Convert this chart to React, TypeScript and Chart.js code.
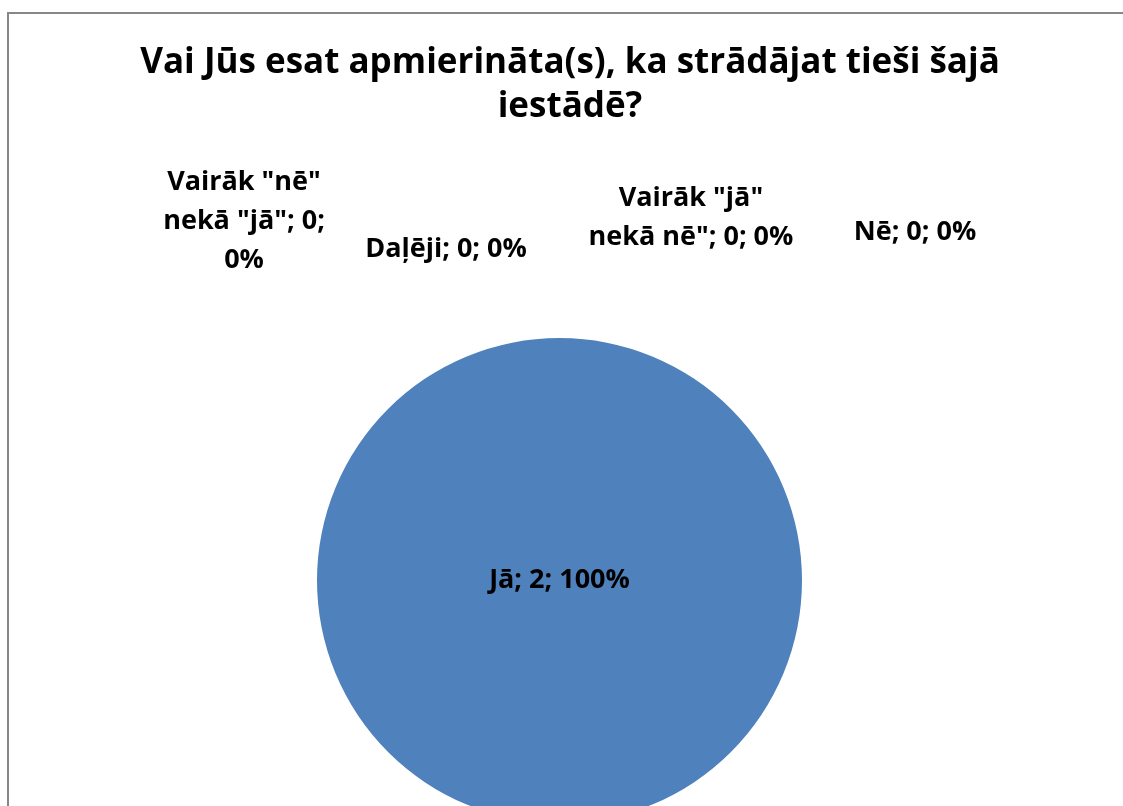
import React, { useEffect, useRef } from "react";
import { Chart, registerables } from "chart.js";

Chart.register(...registerables);

const TITLE_LINES = ["Vai Jūs esat apmierināta(s), ka strādājat tieši šajā", "iestādē?"];
const CATEGORIES = ["Jā", 'Vairāk "jā" nekā nē"', "Daļēji", 'Vairāk "nē" nekā "jā"', "Nē"];
const VALUES = [2, 0, 0, 0, 0];
const SLICE_COLORS = ["#4F81BD", "#C0504D", "#9BBB59", "#8064A2", "#4BACC6"];

// label layout for empty slices: offset from pie centre in radius units
const LABEL_OFFSETS: (number[] | null)[] = [null, [0.542, -1.495], [-0.468, -1.367], [-1.301, -1.482], [1.466, -1.437]];
// word indices before which a data label wraps
const LABEL_BREAKS: number[][] = [[], [2], [], [2, 5], []];

const FONT = '"Open Sans", "DejaVu Sans", sans-serif';
const TITLE_SIZE = 35;
const TITLE_LINE_HEIGHT = 44;
const TITLE_TOP = 27;
const LABEL_SIZE = 27;
const LABEL_LINE_HEIGHT = 39;

const titlePlugin = {
  id: "excelTitle",
  afterDraw(chart: any) {
    const ctx = chart.ctx;
    ctx.save();
    ctx.font = `bold ${TITLE_SIZE}px ${FONT}`;
    ctx.fillStyle = "#000";
    ctx.textAlign = "center";
    ctx.textBaseline = "middle";
    TITLE_LINES.forEach((ln, k) => {
      ctx.fillText(ln, chart.width / 2, TITLE_TOP + TITLE_LINE_HEIGHT * (k + 0.5));
    });
    ctx.restore();
  },
};

const labelPlugin = {
  id: "sliceLabels",
  afterDatasetsDraw(chart: any) {
    const ctx = chart.ctx;
    const meta = chart.getDatasetMeta(0);
    const data: number[] = chart.data.datasets[0].data;
    const total = data.reduce((a, b) => a + b, 0);
    ctx.save();
    ctx.font = `bold ${LABEL_SIZE}px ${FONT}`;
    ctx.fillStyle = "#000";
    ctx.textAlign = "center";
    ctx.textBaseline = "middle";
    meta.data.forEach((arc: any, i: number) => {
      const { x: cx, y: cy, outerRadius: r } = arc.getProps(["x", "y", "outerRadius"], true);
      const v = data[i];
      const pct = total ? Math.round((v / total) * 100) : 0;
      const text = `${chart.data.labels[i]}; ${v}; ${pct}%`;
      const words = text.split(" ");
      const breaks = LABEL_BREAKS[i] || [];
      const lines: string[] = [];
      let cur: string[] = [];
      words.forEach((w, k) => {
        if (breaks.includes(k) && cur.length) {
          lines.push(cur.join(" "));
          cur = [];
        }
        cur.push(w);
      });
      lines.push(cur.join(" "));
      let px: number, py: number;
      if (v === total) {
        px = cx;
        py = cy;
      } else if (v === 0 && LABEL_OFFSETS[i]) {
        const o = LABEL_OFFSETS[i] as number[];
        px = cx + o[0] * r;
        py = cy + o[1] * r;
      } else {
        const p = arc.tooltipPosition(true);
        px = p.x;
        py = p.y;
      }
      const y0 = py - ((lines.length - 1) * LABEL_LINE_HEIGHT) / 2;
      lines.forEach((ln, k) => ctx.fillText(ln, px, y0 + k * LABEL_LINE_HEIGHT));
    });
    ctx.restore();
  },
};

export default function App() {
  const ref = useRef<HTMLCanvasElement | null>(null);
  useEffect(() => {
    if (!ref.current) return;
    const chart = new Chart(ref.current, {
      type: "pie",
      data: {
        labels: CATEGORIES,
        datasets: [
          {
            data: VALUES,
            backgroundColor: SLICE_COLORS,
            borderWidth: 0,
          },
        ],
      },
      options: {
        animation: false,
        responsive: true,
        maintainAspectRatio: false,
        layout: { padding: { left: 0, right: 21, top: 324, bottom: 21 } },
        plugins: {
          legend: { display: false },
          title: { display: false },
          tooltip: { enabled: false },
        },
      },
      plugins: [titlePlugin, labelPlugin],
    });
    return () => chart.destroy();
  }, []);
  return (
    <div
      style={{
        position: "fixed",
        left: 7,
        top: 12,
        width: 1122,
        height: 830,
        border: "2px solid #878787",
        background: "#fff",
      }}
    >
      <div style={{ position: "relative", width: 1122, height: 830 }}>
        <canvas ref={ref} />
      </div>
    </div>
  );
}
